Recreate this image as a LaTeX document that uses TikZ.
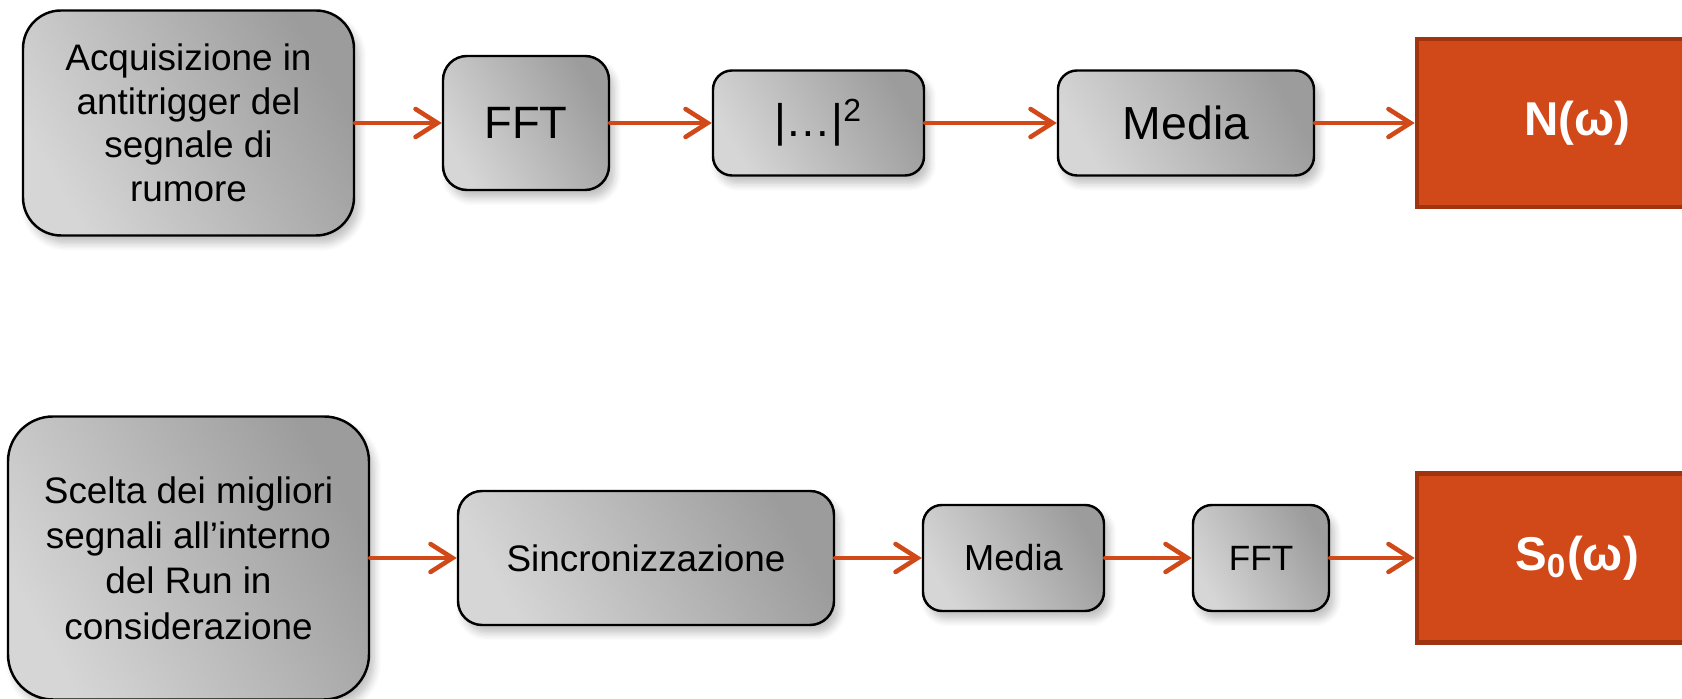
\documentclass[tikz,border=0pt]{standalone}
\usepackage{fontspec}
\setmainfont{Liberation Sans}
\usetikzlibrary{arrows.meta,shadows.blur}
\definecolor{rosso}{RGB}{209,73,24}
\definecolor{rossoscuro}{RGB}{160,52,14}
\definecolor{grigiochiaro}{RGB}{214,214,214}
\definecolor{grigioscuro}{RGB}{156,156,156}

\tikzset{
  blocco/.style={draw=black, line width=0.7pt, top color=grigioscuro, bottom color=grigiochiaro,
    shading angle=-60, align=center, inner sep=0pt,
    blur shadow={shadow xshift=0.5mm, shadow yshift=-0.8mm, shadow blur steps=6, shadow opacity=25}},
  uscita/.style={draw=rossoscuro, line width=1.3pt, fill=rosso, text=white, inner sep=0pt,
    font=\bfseries\fontsize{13.5}{16}\selectfont},
  freccia/.style={draw=rosso, line width=1.3pt, line cap=round,
    -{Straight Barb[length=2.2mm,width=2.8mm,line cap=round]}},
}

\begin{document}
\begin{tikzpicture}
\useasboundingbox (0,0) rectangle (16.82,6.99);
% rumore
\node[blocco, rounded corners=0.38cm, minimum width=3.31cm, minimum height=2.25cm,
  font=\fontsize{10.5}{12.4}\selectfont] (acq) at (1.885,5.76)
  {Acquisizione in\\antitrigger del\\segnale di\\rumore};
\node[blocco, rounded corners=0.24cm, minimum width=1.66cm, minimum height=1.34cm,
  font=\fontsize{12.9}{15}\selectfont] (fftA) at (5.26,5.76) {FFT};
\node[blocco, rounded corners=0.19cm, minimum width=2.11cm, minimum height=1.05cm,
  font=\fontsize{13}{15}\selectfont] (absA) at (8.185,5.76) {|…|\textsuperscript{2}};
\node[blocco, rounded corners=0.19cm, minimum width=2.56cm, minimum height=1.05cm,
  font=\fontsize{13.2}{15}\selectfont] (medA) at (11.86,5.76) {Media};
\node[uscita, minimum width=3.2cm, minimum height=1.68cm] (nA) at (15.77,5.76) {N(ω)};
% segnale
\node[blocco, rounded corners=0.45cm, minimum width=3.61cm, minimum height=2.83cm,
  font=\fontsize{10.5}{12.9}\selectfont] (sce) at (1.885,1.41)
  {Scelta dei migliori\\segnali all’interno\\del Run in\\considerazione};
\node[blocco, rounded corners=0.24cm, minimum width=3.76cm, minimum height=1.34cm,
  font=\fontsize{10.5}{12}\selectfont] (sin) at (6.46,1.41) {Sincronizzazione};
\node[blocco, rounded corners=0.19cm, minimum width=1.81cm, minimum height=1.06cm,
  font=\fontsize{10.3}{12}\selectfont] (medB) at (10.135,1.41) {Media};
\node[blocco, rounded corners=0.19cm, minimum width=1.36cm, minimum height=1.06cm,
  font=\fontsize{10}{12}\selectfont] (fftB) at (12.61,1.41) {FFT};
\node[uscita, minimum width=3.2cm, minimum height=1.69cm] (sB) at (15.77,1.41) {S\textsubscript{0}(ω)};
\foreach \a/\b in {acq/fftA,fftA/absA,absA/medA,medA/nA,sce/sin,sin/medB,medB/fftB,fftB/sB}
  \draw[freccia] (\a.east) -- (\b.west);
\end{tikzpicture}
\end{document}
